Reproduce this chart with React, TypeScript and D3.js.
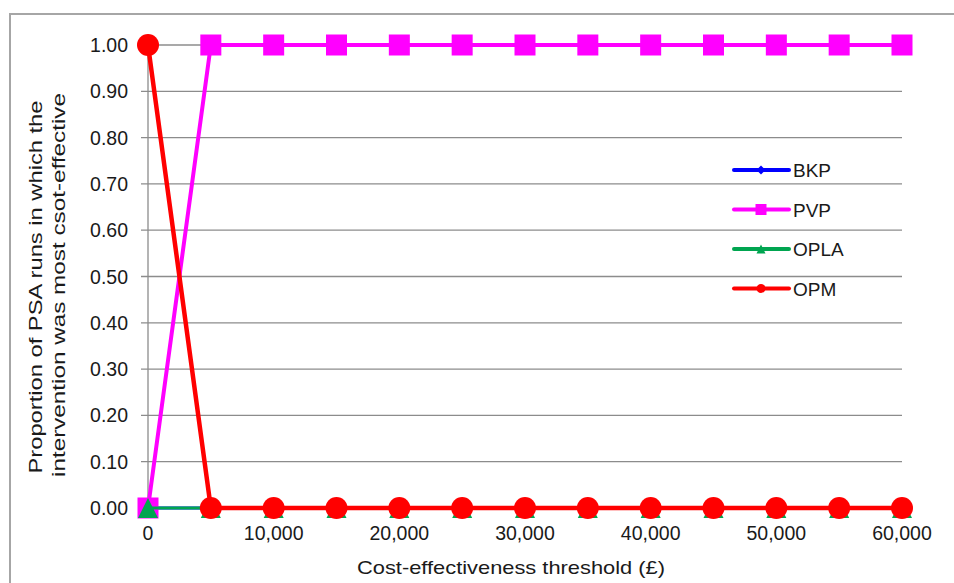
import React from "react";
import * as d3 from "d3";

const thresholds = [0, 5000, 10000, 15000, 20000, 25000, 30000, 35000, 40000, 45000, 50000, 55000, 60000];
const bkp = [0, 0, 0, 0, 0, 0, 0, 0, 0, 0, 0, 0, 0];
const pvp = [0, 1, 1, 1, 1, 1, 1, 1, 1, 1, 1, 1, 1];
const opla = [0, 0, 0, 0, 0, 0, 0, 0, 0, 0, 0, 0, 0];
const opm = [1, 0, 0, 0, 0, 0, 0, 0, 0, 0, 0, 0, 0];
const xTicks = [0, 10000, 20000, 30000, 40000, 50000, 60000];
const yTicks = [0, 0.1, 0.2, 0.3, 0.4, 0.5, 0.6, 0.7, 0.8, 0.9, 1.0];
const seriesNames = ["BKP", "PVP", "OPLA", "OPM"];
const seriesColors = ["#0000ff", "#ff00ff", "#00a550", "#ff0000"];
const seriesValues = [bkp, pvp, opla, opm];
const seriesShapes = ["diamond", "square", "triangle", "circle"];

const W = 954;
const H = 583;
const FONT = "'Liberation Sans', Arial, sans-serif";

function Marker({ shape, cx, cy, size, color }: { shape: string; cx: number; cy: number; size: number; color: string }) {
  const h = size / 2;
  if (shape === "square") return <rect x={cx - h} y={cy - h} width={size} height={size} fill={color} />;
  if (shape === "circle") return <circle cx={cx} cy={cy} r={h} fill={color} />;
  if (shape === "diamond")
    return <path d={`M${cx},${cy - h}L${cx + h},${cy}L${cx},${cy + h}L${cx - h},${cy}Z`} fill={color} />;
  return <path d={`M${cx},${cy - h}L${cx + h},${cy + h}L${cx - h},${cy + h}Z`} fill={color} />;
}

export default function App() {
  const x = d3.scaleLinear().domain([0, 60000]).range([148, 902]);
  const y = d3.scaleLinear().domain([0, 1]).range([508, 45]);
  const line = d3
    .line<number>()
    .x((_, i) => x(thresholds[i]))
    .y((d) => y(d));
  const lineWidths = [3, 4, 3, 4.5];
  const markerSizes = [16, 21, 20, 22];
  const fmt = d3.format(",");

  return (
    <svg
      width={W}
      height={H}
      style={{ position: "absolute", left: 0, top: 0, background: "#fff" }}
      fontFamily={FONT}
    >
      <rect x={10} y={14} width={W} height={H} fill="#fff" stroke="#a6a6a6" strokeWidth={2} />
      {yTicks.map((t) => (
        <g key={t}>
          <line x1={141} x2={902} y1={y(t)} y2={y(t)} stroke="#8c8c8c" strokeWidth={1.3} />
          <text x={128} y={y(t) + 7} textAnchor="end" fontSize={19.5} fill="#1a1a1a">
            {t.toFixed(2)}
          </text>
        </g>
      ))}
      <line x1={148} x2={148} y1={45} y2={514} stroke="#8c8c8c" strokeWidth={1.3} />
      {xTicks.map((t) => (
        <text key={t} x={x(t)} y={540} textAnchor="middle" fontSize={19.5} fill="#1a1a1a">
          {fmt(t)}
        </text>
      ))}
      {seriesValues.map((vals, si) => (
        <g key={si}>
          <path d={line(vals) || ""} fill="none" stroke={seriesColors[si]} strokeWidth={lineWidths[si]} />
          {vals.map((v, i) => (
            <Marker
              key={i}
              shape={seriesShapes[si]}
              cx={x(thresholds[i])}
              cy={y(v)}
              size={markerSizes[si]}
              color={seriesColors[si]}
            />
          ))}
        </g>
      ))}
      {seriesNames.map((n, i) => {
        const ly = 170 + i * 39.5;
        return (
          <g key={n}>
            <line x1={734} x2={789} y1={ly} y2={ly} stroke={seriesColors[i]} strokeWidth={4} strokeLinecap="round" />
            <Marker shape={seriesShapes[i]} cx={761} cy={ly} size={i === 1 ? 11 : 9} color={seriesColors[i]} />
            <text x={793} y={ly + 7} fontSize={19} fill="#1a1a1a">
              {n}
            </text>
          </g>
        );
      })}
      <text x={511} y={574} textAnchor="middle" fontSize={19} fill="#1a1a1a" textLength={308} lengthAdjust="spacingAndGlyphs">
        Cost-effectiveness threshold (£)
      </text>
      <text
        transform="translate(42,287) rotate(-90)"
        textAnchor="middle"
        fontSize={19}
        fill="#1a1a1a"
        textLength={373}
        lengthAdjust="spacingAndGlyphs"
      >
        Proportion of PSA runs in which the
      </text>
      <text
        transform="translate(65,285) rotate(-90)"
        textAnchor="middle"
        fontSize={19}
        fill="#1a1a1a"
        textLength={384}
        lengthAdjust="spacingAndGlyphs"
      >
        intervention was most csot-effective
      </text>
    </svg>
  );
}
